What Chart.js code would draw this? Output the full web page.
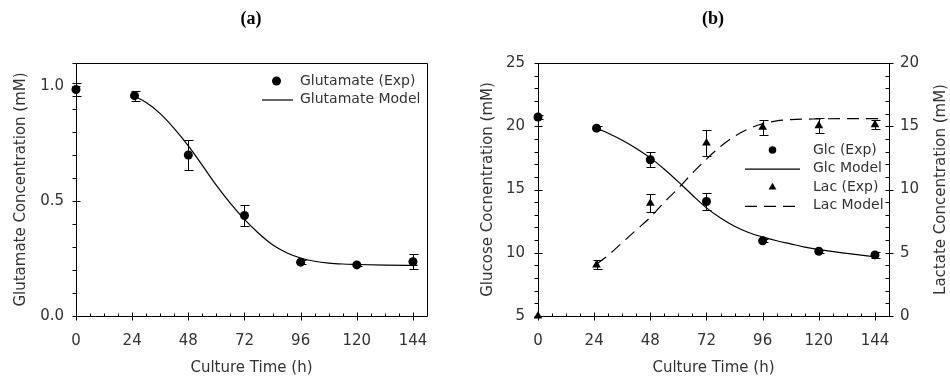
<!DOCTYPE html>
<html><head><meta charset="utf-8">
<script src="https://cdn.jsdelivr.net/npm/chart.js@4"></script>
<style>
html,body{margin:0;padding:0;background:#fff;width:950px;height:378px;overflow:hidden;}
#wrap{position:relative;width:950px;height:378px;}
canvas{position:absolute;top:0;}
.ttl{position:absolute;top:8px;line-height:20px;font:bold 18px "Liberation Serif","DejaVu Serif",serif;color:#000;transform:translateX(-50%);white-space:nowrap;}
</style></head><body>
<div id="wrap">
<canvas id="ca" width="460" height="378" style="left:0"></canvas>
<canvas id="cb" width="490" height="378" style="left:460px"></canvas>
<div class="ttl" style="left:251px">(a)</div>
<div class="ttl" style="left:713px">(b)</div>
</div>
<script>
// ---- data ----
const timeTicks = [0, 24, 48, 72, 96, 120, 144];
const glutTicks = [0, 0.5, 1.0];
const glcTicks = [5, 10, 15, 20, 25];
const lacTicks = [0, 5, 10, 15, 20];

const expTime = [0, 25, 48, 72, 96, 120, 144];
const glutExp = [0.985, 0.958, 0.70, 0.437, 0.234, 0.222, 0.236];
const glutErr = [0.027, 0.022, 0.067, 0.044, 0.008, 0.006, 0.033];
const glcExp = [20.73, 19.85, 17.35, 14.05, 10.94, 10.12, 9.83];
const glcErr = [0.12, 0.15, 0.6, 0.66, 0.12, 0.12, 0.22];
const lacExp = [0, 4.04, 8.92, 13.67, 14.93, 15.04, 15.12];
const lacErr = [0, 0.35, 0.7, 1.0, 0.6, 0.6, 0.35];

const glutModelTime = [25, 30, 36, 42, 48, 54, 60, 66, 72, 78, 84, 90, 96, 102, 108, 114, 120, 132, 146];
const glutModel = [0.955, 0.928, 0.88, 0.815, 0.74, 0.655, 0.568, 0.49, 0.42, 0.36, 0.31, 0.275, 0.252, 0.238, 0.23, 0.226, 0.224, 0.221, 0.22];
const glcModelTime = [25, 30, 36, 42, 48, 54, 60, 66, 72, 78, 84, 90, 96, 102, 108, 114, 120, 132, 145];
const glcModel = [19.85, 19.45, 18.9, 18.25, 17.5, 16.6, 15.6, 14.55, 13.55, 12.75, 12.1, 11.6, 11.25, 10.95, 10.7, 10.45, 10.25, 9.95, 9.65];
const lacModelTime = [25, 30, 36, 42, 48, 54, 60, 66, 72, 78, 84, 90, 96, 102, 108, 120, 132, 147];
const lacModel = [4.1, 4.8, 5.8, 6.8, 7.8, 9.0, 10.1, 11.3, 12.4, 13.4, 14.2, 14.8, 15.2, 15.42, 15.52, 15.58, 15.6, 15.6];

const pts = (xs, ys) => xs.map((x, i) => ({x: x, y: ys[i]}));

// ---- style ----
const FONT = "'DejaVu Sans', Verdana, sans-serif";
Chart.defaults.font.family = FONT;
Chart.defaults.font.size = 15;
Chart.defaults.color = '#333';
const TXT = '#333';

function line(ctx, x1, y1, x2, y2) { ctx.moveTo(x1, y1); ctx.lineTo(x2, y2); }

// frame + tick marks plugin
const framePlugin = {
  id: 'frame',
  beforeDatasetsDraw(chart, args, o) {
    const ctx = chart.ctx, a = chart.chartArea;
    const L = Math.round(a.left) + 0.5, R = Math.round(a.right) + 0.5;
    const T = Math.round(a.top) + 0.5, B = Math.round(a.bottom) + 0.5;
    ctx.save();
    ctx.strokeStyle = '#000'; ctx.lineWidth = 1;
    ctx.beginPath();
    ctx.rect(L, T, R - L, B - T);
    const xs = chart.scales.x;
    for (let i = 0; i <= 24; i++) {
      const v = i * 6;
      const px = Math.round(xs.getPixelForValue(v)) + 0.5;
      if (v % 24 === 0) line(ctx, px, B + 4, px, B - 4);
      else line(ctx, px, B, px, B - 3);
    }
    (o.axes || []).forEach(ax => {
      const s = chart.scales[ax.id];
      const edge = ax.side === 'left' ? L : R;
      for (let i = 0; i <= ax.n; i++) {
        const v = ax.min + i * ax.step;
        const py = Math.round(s.getPixelForValue(v)) + 0.5;
        if (i % ax.every === 0) line(ctx, edge - 4, py, edge + 4, py);
        else line(ctx, edge - 4, py, edge, py);
      }
    });
    ctx.stroke();
    ctx.restore();
  },
  afterDraw(chart, args, o) {
    if (!o.sideTitle) return;
    const ctx = chart.ctx, a = chart.chartArea;
    ctx.save();
    ctx.translate(o.sideTitle.x, (a.top + a.bottom) / 2);
    ctx.rotate(-Math.PI / 2);
    ctx.fillStyle = TXT;
    ctx.font = "15px " + FONT;
    ctx.textAlign = 'center'; ctx.textBaseline = 'middle';
    ctx.fillText(o.sideTitle.text, 0, 0);
    ctx.restore();
  }
};

// error bars plugin
const errPlugin = {
  id: 'errbars',
  beforeDatasetsDraw(chart) {
    const ctx = chart.ctx;
    ctx.save(); ctx.strokeStyle = '#000'; ctx.lineWidth = 1;
    chart.data.datasets.forEach(ds => {
      if (!ds.errorBars) return;
      const xs = chart.scales[ds.xAxisID || 'x'], ys = chart.scales[ds.yAxisID || 'y'];
      ds.data.forEach((p, i) => {
        const e = ds.errorBars[i]; if (!e) return;
        const px = Math.round(xs.getPixelForValue(p.x)) + 0.5;
        const y1 = Math.round(ys.getPixelForValue(p.y + e)) + 0.5;
        const y2 = Math.round(ys.getPixelForValue(p.y - e)) + 0.5;
        ctx.beginPath();
        line(ctx, px, y1, px, y2);
        line(ctx, px - 4, y1, px + 5, y1);
        line(ctx, px - 4, y2, px + 5, y2);
        ctx.stroke();
      });
    });
    ctx.restore();
  }
};

// in-plot legend plugin
const legendPlugin = {
  id: 'boxLegend',
  afterDraw(chart, args, o) {
    const ctx = chart.ctx;
    ctx.save();
    chart.data.datasets.forEach((ds, i) => {
      const y = o.y0 + i * o.dy;
      ctx.strokeStyle = '#000'; ctx.fillStyle = '#000';
      if (ds.showLine) {
        ctx.lineWidth = 1.2;
        ctx.setLineDash(ds.borderDash || []);
        ctx.beginPath(); ctx.moveTo(o.lineX1, y + 0.5); ctx.lineTo(o.lineX2, y + 0.5); ctx.stroke();
        ctx.setLineDash([]);
      } else if (ds.pointStyle === 'triangle') {
        const r = o.tr;
        ctx.beginPath();
        ctx.moveTo(o.markerX, y - r);
        ctx.lineTo(o.markerX + r * 0.866, y + r * 0.5);
        ctx.lineTo(o.markerX - r * 0.866, y + r * 0.5);
        ctx.closePath(); ctx.fill();
      } else {
        ctx.beginPath(); ctx.arc(o.markerX, y, o.cr, 0, Math.PI * 2); ctx.fill();
      }
      ctx.fillStyle = TXT;
      ctx.font = "14px " + FONT;
      ctx.textBaseline = 'middle'; ctx.textAlign = 'left';
      ctx.fillText(ds.label, o.textX, y);
    });
    ctx.restore();
  }
};

function xScale() {
  return {
    type: 'linear', position: 'bottom', min: 0, max: 150,
    afterBuildTicks: s => { s.ticks = timeTicks.map(v => ({value: v})); },
    afterFit: s => { s.height = 62; },
    ticks: { padding: 16, color: TXT, maxRotation: 0, autoSkip: false, callback: v => String(v) },
    grid: { display: false, drawTicks: false }, border: { display: false },
    title: { display: true, text: 'Culture Time (h)', color: TXT, padding: { top: 0, bottom: 1 } }
  };
}

const common = {
  responsive: false, animation: false, events: [],
  devicePixelRatio: 1
};

// ---- chart (a) ----
new Chart(document.getElementById('ca'), {
  type: 'scatter',
  data: {
    datasets: [
      { label: 'Glutamate (Exp)', data: pts(expTime, glutExp), errorBars: glutErr,
        pointStyle: 'circle', pointRadius: 4.5, backgroundColor: '#000', borderColor: '#000', borderWidth: 0, clip: false },
      { label: 'Glutamate Model', data: pts(glutModelTime, glutModel), showLine: true,
        borderColor: '#000', borderWidth: 1.2, pointRadius: 0, cubicInterpolationMode: 'monotone', fill: false, clip: false }
    ]
  },
  options: Object.assign({}, common, {
    layout: { padding: { top: 63, right: 33, left: 0, bottom: 0 } },
    scales: {
      x: xScale(),
      y: {
        type: 'linear', position: 'left', min: 0, max: 1.1,
        afterBuildTicks: s => { s.ticks = glutTicks.map(v => ({value: v})); },
        afterFit: s => { s.width = 76; },
        ticks: { padding: 12, color: TXT, callback: v => Number(v).toFixed(1) },
        grid: { display: false, drawTicks: false }, border: { display: false },
        title: { display: true, text: 'Glutamate Concentration (mM)', color: TXT, padding: { top: 12, bottom: 0 } }
      }
    },
    plugins: {
      legend: { display: false }, tooltip: { enabled: false },
      frame: { axes: [{ id: 'y', side: 'left', min: 0, step: 0.1, n: 11, every: 5 }] },
      boxLegend: { markerX: 276.5, lineX1: 262, lineX2: 293, textX: 300, y0: 81, dy: 18.5, cr: 4.5, tr: 5 }
    }
  }),
  plugins: [framePlugin, errPlugin, legendPlugin]
});

// ---- chart (b) ----
new Chart(document.getElementById('cb'), {
  type: 'scatter',
  data: {
    datasets: [
      { label: 'Glc (Exp)', data: pts(expTime, glcExp), errorBars: glcErr, yAxisID: 'y',
        pointStyle: 'circle', pointRadius: 4.5, backgroundColor: '#000', borderColor: '#000', borderWidth: 0, clip: false },
      { label: 'Glc Model', data: pts(glcModelTime, glcModel), yAxisID: 'y', showLine: true,
        borderColor: '#000', borderWidth: 1.2, pointRadius: 0, cubicInterpolationMode: 'monotone', fill: false, clip: false },
      { label: 'Lac (Exp)', data: pts(expTime, lacExp), errorBars: lacErr, yAxisID: 'y2',
        pointStyle: 'triangle', pointRadius: 5, backgroundColor: '#000', borderColor: '#000', borderWidth: 0, clip: false },
      { label: 'Lac Model', data: pts(lacModelTime, lacModel), yAxisID: 'y2', showLine: true, borderDash: [12, 7],
        borderColor: '#000', borderWidth: 1.2, pointRadius: 0, cubicInterpolationMode: 'monotone', fill: false, clip: false }
    ]
  },
  options: Object.assign({}, common, {
    layout: { padding: { top: 63, right: 0, left: 0, bottom: 0 } },
    scales: {
      x: xScale(),
      y: {
        type: 'linear', position: 'left', min: 5, max: 25,
        afterBuildTicks: s => { s.ticks = glcTicks.map(v => ({value: v})); },
        afterFit: s => { s.width = 78; },
        ticks: { padding: 13, color: TXT, callback: v => String(v) },
        grid: { display: false, drawTicks: false }, border: { display: false },
        title: { display: true, text: 'Glucose Cocnentration (mM)', color: TXT, padding: { top: 19, bottom: 0 } }
      },
      y2: {
        type: 'linear', position: 'right', min: 0, max: 20,
        afterBuildTicks: s => { s.ticks = lacTicks.map(v => ({value: v})); },
        afterFit: s => { s.width = 61; },
        ticks: { padding: 11, color: TXT, callback: v => String(v) },
        grid: { display: false, drawTicks: false }, border: { display: false },
        title: { display: false }
      }
    },
    plugins: {
      legend: { display: false }, tooltip: { enabled: false },
      frame: { axes: [
        { id: 'y', side: 'left', min: 5, step: 1, n: 20, every: 5 },
        { id: 'y2', side: 'right', min: 0, step: 1, n: 20, every: 5 }
      ], sideTitle: { text: 'Lactate Concentration (mM)', x: 481.5 } },
      boxLegend: { markerX: 312.5, lineX1: 285, lineX2: 340, textX: 353, y0: 150, dy: 18.6, cr: 3.8, tr: 4.5 }
    }
  }),
  plugins: [framePlugin, errPlugin, legendPlugin]
});
</script>
</body></html>
